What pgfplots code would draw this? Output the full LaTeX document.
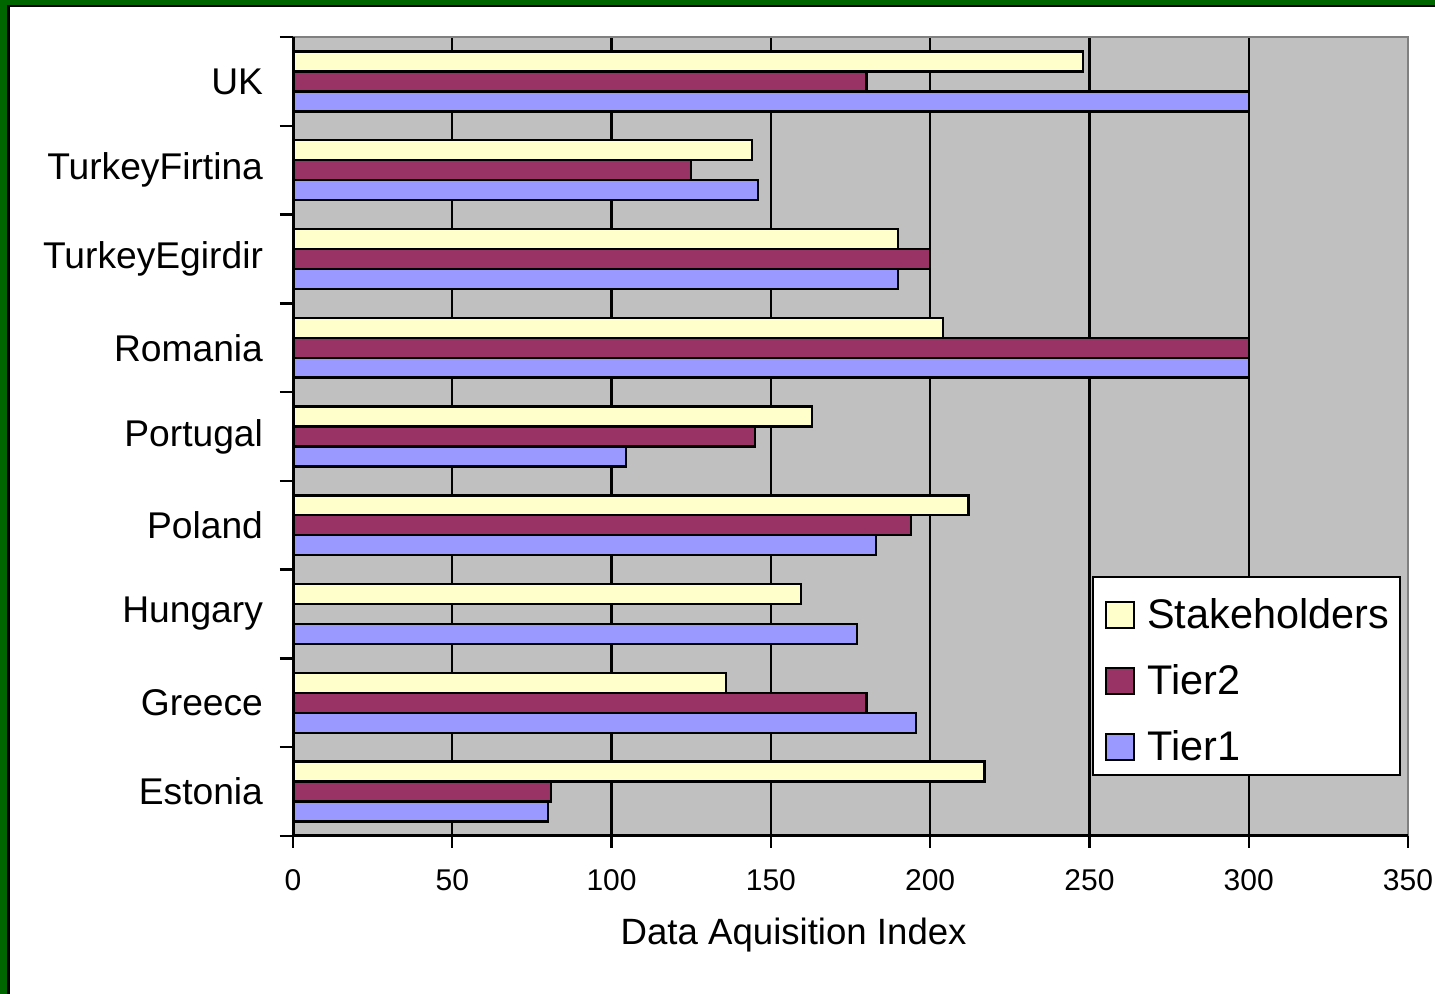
\documentclass[border=0pt]{standalone}
\usepackage{fontspec}
\setmainfont{Liberation Sans}
\usepackage{pgfplots}
\pgfplotsset{compat=1.18}
\definecolor{frame}{HTML}{006600}
\definecolor{plotbg}{HTML}{C0C0C0}
\definecolor{plotedge}{HTML}{808080}
\definecolor{stake}{HTML}{FFFFCC}
\definecolor{tiertwo}{HTML}{993366}
\definecolor{tierone}{HTML}{9999FF}

\begin{document}
\begin{tikzpicture}
% green frame, cut at the right and bottom as in the source
\fill[frame] (0,0) rectangle (717.5pt,497pt);
\fill[black] (3.5pt,0) rectangle (717.5pt,494.5pt);
\fill[white] (5pt,0) rectangle (717.5pt,493.5pt);
\begin{axis}[
  at={(146.5pt,79pt)}, anchor=south west,
  width=557.5pt, height=399.5pt, scale only axis,
  xbar, bar width=0.225,
  xmin=0, xmax=350, ymin=-0.5, ymax=8.5,
  clip=false,
  axis background/.style={fill=plotbg},
  axis lines=left, axis line style={-, line width=1.5pt},
  tick align=outside, major tick length=6pt, minor tick length=6.5pt,
  xtick={0,50,...,350},
  ytick={0,...,8},
  yticklabels={Estonia,Greece,Hungary,Poland,Portugal,Romania,TurkeyEgirdir,TurkeyFirtina,UK},
  minor ytick={-0.5,0.5,...,8.5},
  xtick style={black, line width=1.2pt},
  ytick style={draw=none},
  minor y tick style={draw=black, line width=1.2pt},
  xmajorgrids, grid style={black, line width=1.2pt},
  /pgf/number format/assume math mode=true,
  xticklabel style={font=\fontsize{15}{18}\selectfont, yshift=-7pt},
  yticklabel style={font=\fontsize{18.6}{22}\selectfont, xshift=-5.5pt},
  xlabel={Data Aquisition Index},
  xlabel style={font=\fontsize{18.3}{22}\selectfont, at={(rel axis cs:0.449,0)}, anchor=base, yshift=-54.5pt},
  legend style={at={(rel axis cs:0.9937,0.075)}, anchor=south east,
    draw=black, line width=1pt, fill=white,
    font=\fontsize{20.7}{24}\selectfont, row sep=8pt,
    inner xsep=3.5pt, inner ysep=3.75pt,
    nodes={inner xsep=2pt, text height=19.6pt}},
  legend cell align=left,
  legend image code/.code={
    \path (-1pt,0pt) (19.5pt,0pt);
    \draw[#1, draw=black, line width=1pt] (1.5pt,-8.9pt) rectangle (15.5pt,4.1pt);},
]
\addplot[fill=stake, draw=black, line width=1.2pt, bar shift=0.225] coordinates {
  (217,0) (136,1) (159.5,2) (212,3) (163,4) (204,5) (190,6) (144,7) (248,8)};
\addplot[fill=tiertwo, draw=black, line width=1.2pt, bar shift=0] coordinates {
  (81,0) (180,1) (194,3) (145,4) (300,5) (200,6) (125,7) (180,8)};
\addplot[fill=tierone, draw=black, line width=1.2pt, bar shift=-0.225] coordinates {
  (80,0) (195.5,1) (177,2) (183,3) (104.5,4) (300,5) (190,6) (146,7) (300,8)};
\legend{Stakeholders,Tier2,Tier1}
\draw[plotedge, line width=1pt] (rel axis cs:0,1) -- (rel axis cs:1,1) -- (rel axis cs:1,0);
\draw[black, line width=1.5pt] (rel axis cs:0,1) -- (rel axis cs:0,0) -- (rel axis cs:1,0);
\end{axis}
\pgfresetboundingbox
\path[use as bounding box] (0,0) rectangle (717.5pt,497pt);
\end{tikzpicture}
\end{document}
